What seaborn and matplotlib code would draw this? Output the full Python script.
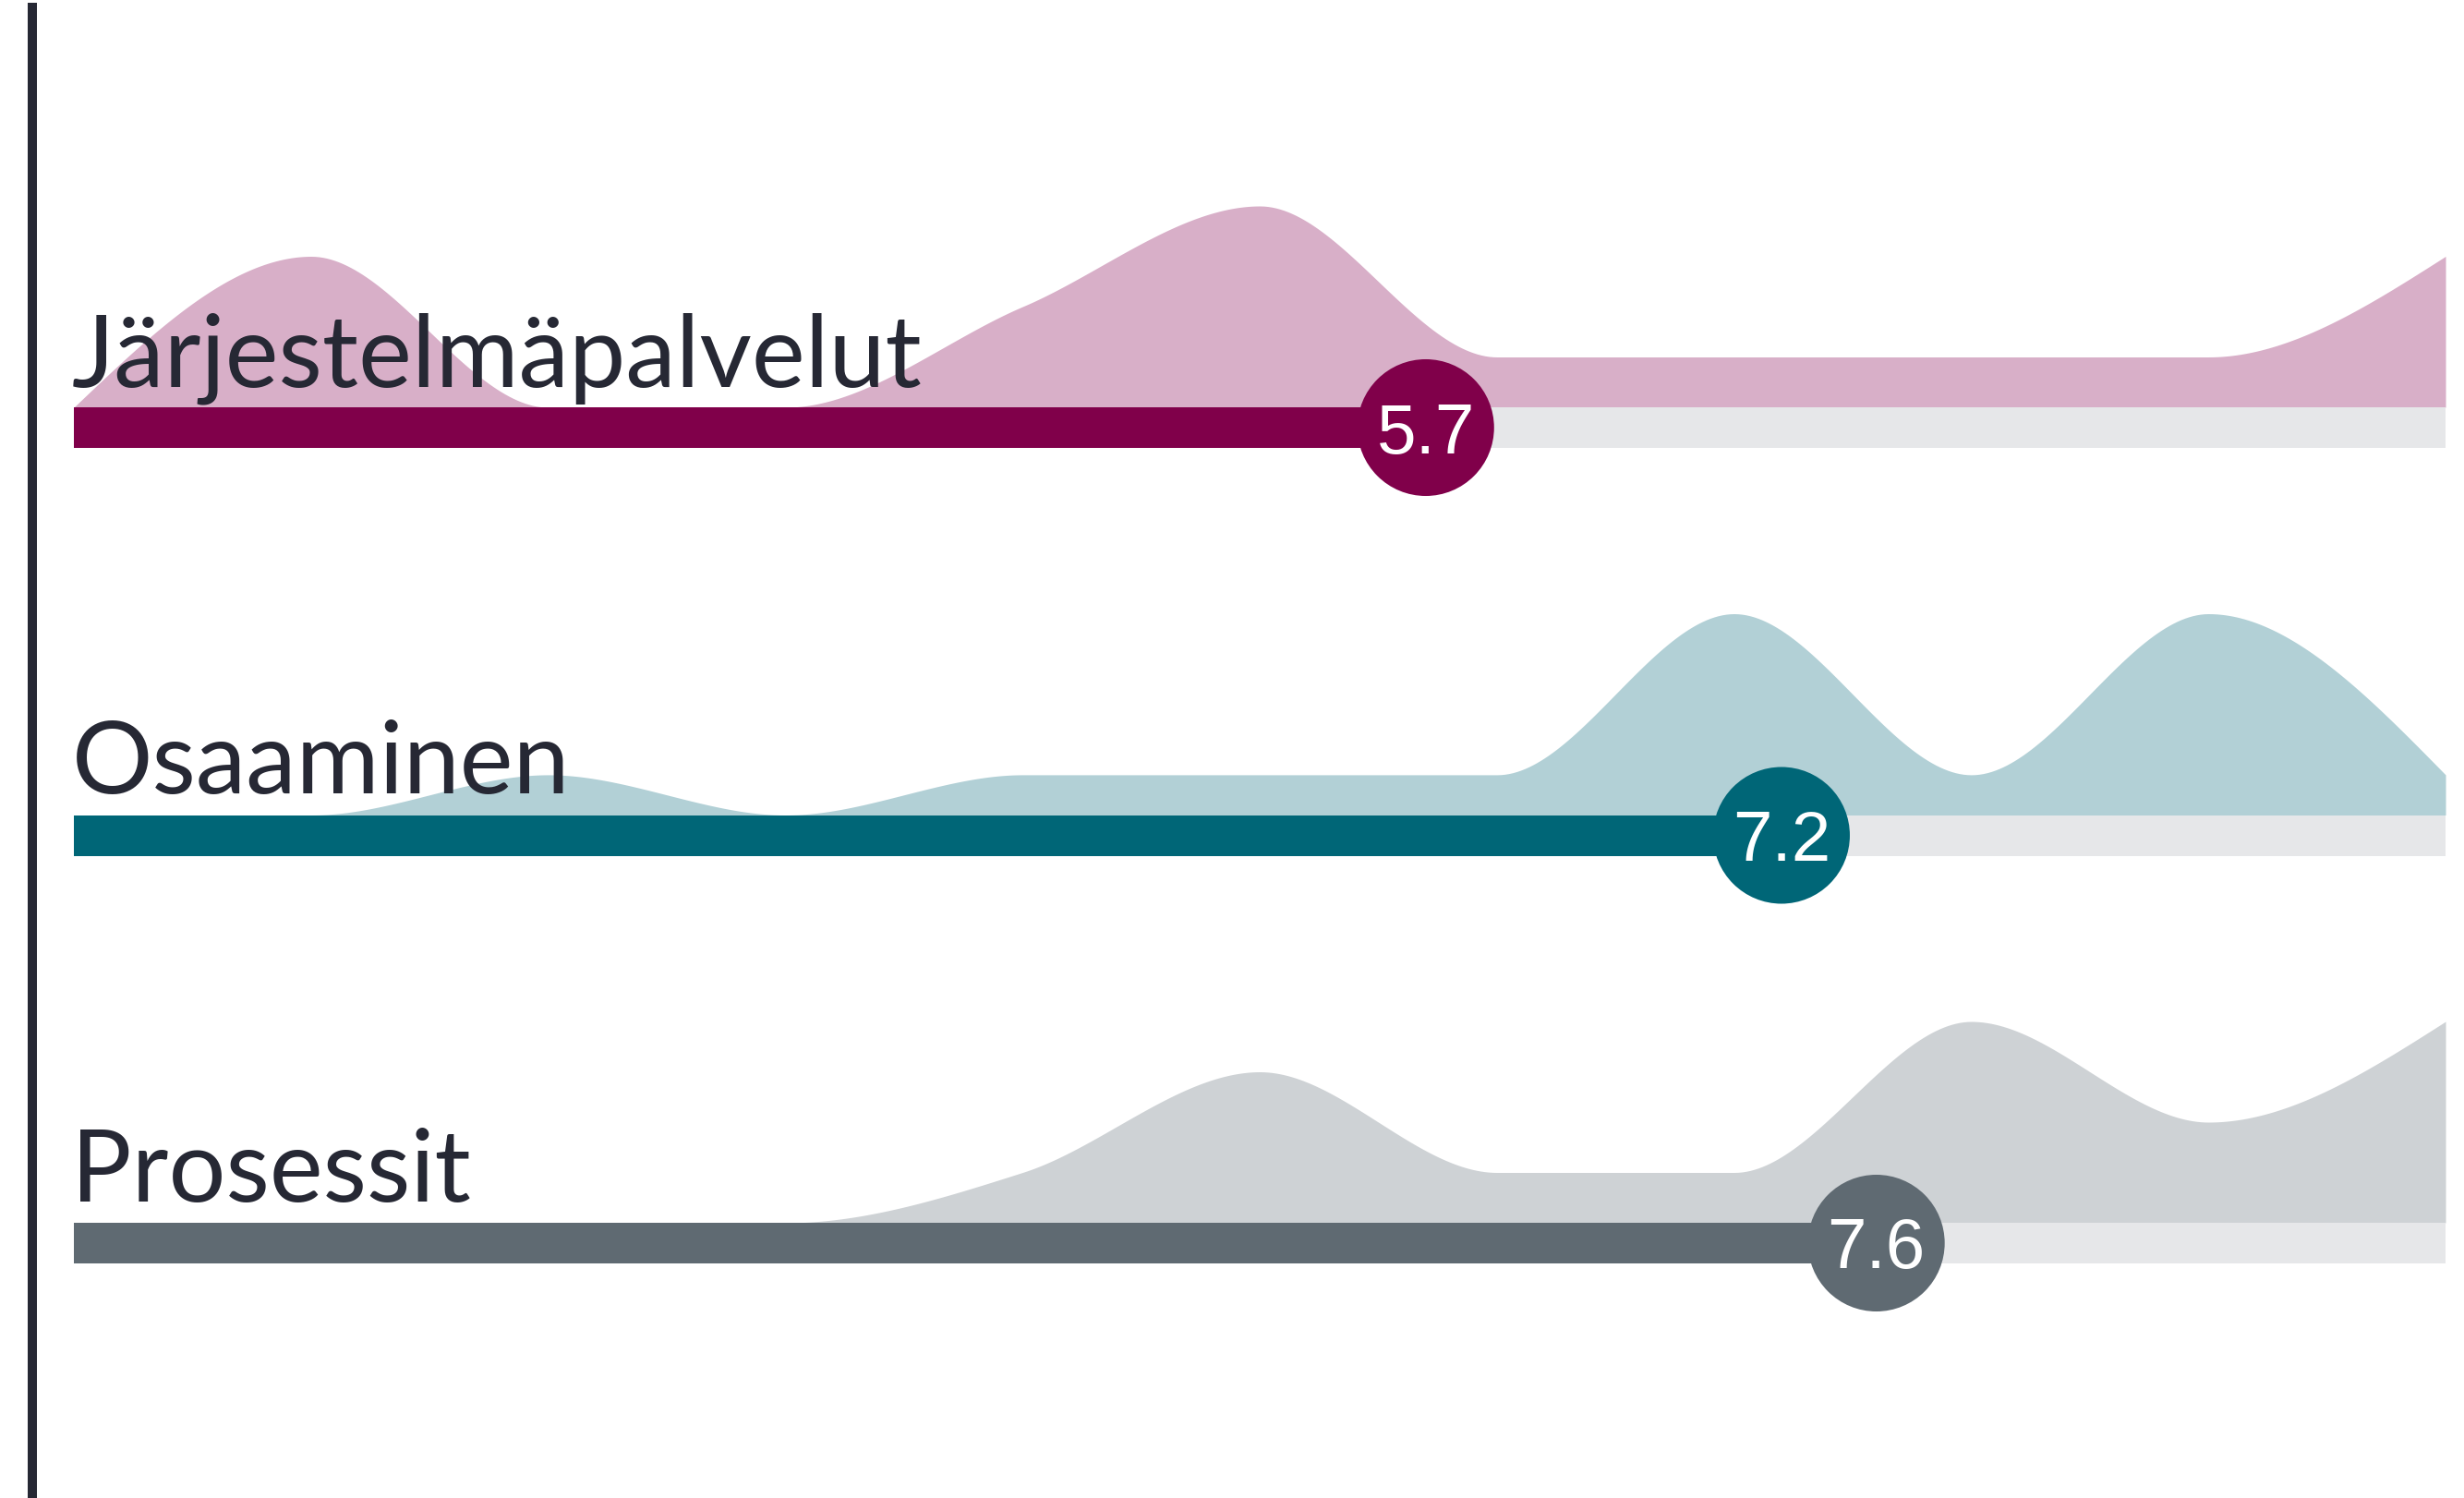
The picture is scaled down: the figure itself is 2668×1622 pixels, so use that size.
"""
Vastausjakaumat ja keskiarvot: kolme osa-aluetta, jakauma-alue palkin yläpuolella.
Tallentaa out.png
"""

import numpy as np
import seaborn as sns
import matplotlib.pyplot as plt

# data: vastaajien määrä arvosanoittain 0..10 ja keskiarvot
categories = ["Järjestelmäpalvelut", "Osaaminen", "Prosessit"]
scores = list(range(11))
counts_jarjestelma = [0, 3, 0, 0, 2, 4, 1, 1, 1, 1, 3]
counts_osaaminen = [0, 0, 1, 0, 1, 1, 1, 5, 1, 5, 1]
counts_prosessit = [0, 0, 0, 0, 1, 3, 1, 1, 4, 2, 4]
means = [5.7, 7.2, 7.6]

bar_colors = ["#80004a", "#006677", "#5f6a72"]
area_colors = ["#d8afc8", "#b2d0d6", "#ced2d5"]
TRACK = "#e6e7e9"
INK = "#262834"

# kuvan mitat pikseleinä
W, H, DPI = 2668, 1622, 200
X0_PX, UNIT_PX = 80, 256.8
ROW0_PX, ROW_PX = 463, 441.5
SPINE_X_PX, SPINE_TOP_PX = 34.5, 8
BAR_T = 44 / ROW_PX
AREA_H = 218 / ROW_PX


def monotone(xs, ys, n=60):
    """d3.curveMonotoneX -tyylinen tasoitus."""
    xs = np.asarray(xs, float)
    ys = np.asarray(ys, float)
    m = len(xs)
    t = np.zeros(m)
    for i in range(1, m - 1):
        h0, h1 = xs[i] - xs[i - 1], xs[i + 1] - xs[i]
        s0, s1 = (ys[i] - ys[i - 1]) / h0, (ys[i + 1] - ys[i]) / h1
        p = (s0 * h1 + s1 * h0) / (h0 + h1)
        t[i] = (np.sign(s0) + np.sign(s1)) * min(abs(s0), abs(s1), 0.5 * abs(p))
    t[0] = (3 * (ys[1] - ys[0]) / (xs[1] - xs[0]) - t[1]) / 2
    t[-1] = (3 * (ys[-1] - ys[-2]) / (xs[-1] - xs[-2]) - t[-2]) / 2
    out_x, out_y = [], []
    for i in range(m - 1):
        h = xs[i + 1] - xs[i]
        u = np.linspace(0, 1, n, endpoint=(i == m - 2))
        h00 = 2 * u**3 - 3 * u**2 + 1
        h10 = u**3 - 2 * u**2 + u
        h01 = -2 * u**3 + 3 * u**2
        h11 = u**3 - u**2
        out_x.append(xs[i] + u * h)
        out_y.append(h00 * ys[i] + h10 * h * t[i] + h01 * ys[i + 1] + h11 * h * t[i + 1])
    return np.concatenate(out_x), np.concatenate(out_y)


def main() -> None:
    sns.set_theme(style="white")
    plt.rcParams["font.family"] = ["Lato", "DejaVu Sans"]

    fig = plt.figure(figsize=(W / DPI, H / DPI), dpi=DPI)
    fig.patch.set_facecolor("white")
    left = SPINE_X_PX / W
    ax = fig.add_axes([left, 0, 1 - left, (H - SPINE_TOP_PX) / H])

    all_counts = [counts_jarjestelma, counts_osaaminen, counts_prosessit]

    # jakauma-alueet
    for i, cnt in enumerate(all_counts):
        cnt = np.asarray(cnt, float)
        cx, cy = monotone(scores, cnt / cnt.max())
        base = i - BAR_T / 2
        ax.fill_between(cx, base, base - cy * AREA_H, color=area_colors[i],
                        linewidth=0, zorder=1)

    # taustapalkki ja arvopalkki
    sns.barplot(x=[10] * len(categories), y=categories, color=TRACK, width=BAR_T,
                linewidth=0, saturation=1, ax=ax, zorder=2)
    sns.barplot(x=means, y=categories, hue=categories, palette=bar_colors,
                width=BAR_T, linewidth=0, saturation=1, legend=False, ax=ax, zorder=3)

    # keskiarvopallot
    sns.scatterplot(x=means, y=list(range(len(categories))), hue=categories,
                    palette=bar_colors, s=2840, linewidth=0, legend=False, ax=ax, zorder=5)
    for i, m in enumerate(means):
        ax.text(m, i + 27.5 / ROW_PX, f"{m:.1f}", ha="center", va="baseline",
                color="white", fontsize=27.5, family=["Liberation Sans", "DejaVu Sans"],
                zorder=6)
        ax.text(-0.01, i - 45 / ROW_PX, categories[i], ha="left", va="baseline",
                color=INK, fontsize=39.4, zorder=4)

    ax.set_xlim((SPINE_X_PX - X0_PX) / UNIT_PX, (W - X0_PX) / UNIT_PX)
    ax.set_ylim((H - ROW0_PX) / ROW_PX, (SPINE_TOP_PX - ROW0_PX) / ROW_PX)
    ax.set_xticks([])
    ax.set_yticks([])
    ax.set_xlabel("")
    ax.set_ylabel("")
    for side in ["top", "right", "bottom"]:
        ax.spines[side].set_visible(False)
    ax.spines["left"].set_color(INK)
    ax.spines["left"].set_linewidth(3.6)
    ax.set_facecolor("white")

    fig.savefig("out.png", dpi=DPI)
    plt.close(fig)


if __name__ == "__main__":
    main()
